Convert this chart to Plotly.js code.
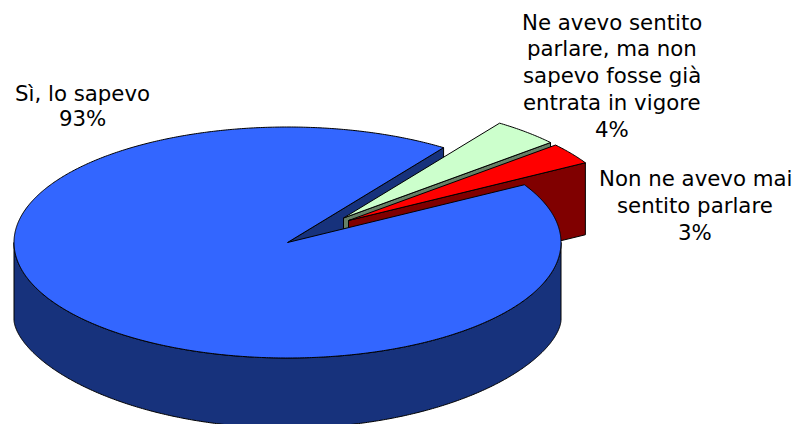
<!DOCTYPE html>
<html><head><meta charset="utf-8">
<script src="https://cdn.plot.ly/plotly-3.0.1.min.js"></script>
<style>html,body{margin:0;padding:0;background:#fff}#c{width:796px;height:424px}</style>
</head><body><div id="c"></div>
<script>
const labelLines = [["Sì, lo sapevo"], ["Ne avevo sentito", "parlare, ma non", "sapevo fosse già", "entrata in vigore"], ["Non ne avevo mai", "sentito parlare"]];
const values = [93, 4, 3];
const topColors = ["#3366FF", "#CCFFCC", "#FF0000"];
const sideColors = ["#17327C", "#668066", "#800000"];

// projection of the tilted disc, in pixel-sized axis units
const cx = 287.5, cy = 242.5, rx = 273.5, ry = 115.5;
const botCy = 320, botRy = 108, botPow = 1.2, depth = 79, explodedDepth = 72;
const firstAngle = 30;           // degrees, measured counter-clockwise from east
const explode = [null, [56, -24.5], [61, -22]];
// label block: centre x, first line y, line step
const labelPos = [[82, 93, 25.5], [612, 22, 26.75], [695, 178, 27]];

const total = values.reduce((a, b) => a + b, 0);
let a = firstAngle; const spans = values.map(v => { const s = a; a -= v / total * 360; return [s, a]; });
const pt = (deg, ox = 0, oy = 0) => [cx + ox + rx * Math.cos(deg * Math.PI / 180), cy + oy - ry * Math.sin(deg * Math.PI / 180)];
const arc = (from, to, ox, oy) => { const out = [], n = Math.max(2, Math.ceil(Math.abs(to - from) / 0.5)); for (let i = 0; i <= n; i++) out.push(pt(from + (to - from) * i / n, ox, oy)); return out; };
const botArc = (from, to) => { const out = [], n = Math.ceil(Math.abs(to - from) / 0.5); for (let i = 0; i <= n; i++) { const t = (from + (to - from) * i / n) * Math.PI / 180; out.push([cx + rx * Math.cos(t), botCy + botRy * Math.pow(Math.abs(Math.sin(t)), botPow)]); } return out; };
const poly = (pts, fill) => ({ type: 'scatter', mode: 'lines', x: pts.map(p => p[0]), y: pts.map(p => p[1]), fill: 'toself', fillcolor: fill, line: { color: '#000', width: 1, simplify: false }, hoverinfo: 'skip', showlegend: false });
const close = p => p.concat([p[0]]);
const slab = (p, q, d) => close([p, q, [q[0], q[1] + d], [p[0], p[1] + d]]);
const slice = (i) => { const [s, e] = spans[i], [ox, oy] = explode[i]; return close([[cx + ox, cy + oy]].concat(arc(s, e, ox, oy))); };

const traces = [];
// blue cut face facing the gap
traces.push(poly(slab([cx, cy], pt(spans[0][1]), depth), sideColors[0]));
// green slice
{ const [ox, oy] = explode[1]; traces.push(poly(slab([cx + ox, cy + oy], pt(spans[1][1], ox, oy), explodedDepth), sideColors[1])); traces.push(poly(slice(1), topColors[1])); }
// red slice
{ const [ox, oy] = explode[2]; traces.push(poly(slab([cx + ox, cy + oy], pt(spans[2][1], ox, oy), explodedDepth), sideColors[2])); traces.push(poly(slice(2), topColors[2])); }
// blue wall and top
traces.push(poly(close(arc(180, 360).concat(botArc(360, 180))), sideColors[0]));
traces.push(poly(close([[cx, cy]].concat(arc(spans[0][0], spans[0][1]))), topColors[0]));

const fnt = { family: '"DejaVu Sans", Verdana, sans-serif', size: 21.3, color: '#000' };
const annotations = [];
labelLines.forEach((lines, i) => {
  const [x, y0, step] = labelPos[i];
  lines.concat([values[i] + '%']).forEach((t, k) => annotations.push({ text: t, x, y: y0 + k * step, xref: 'x', yref: 'y', showarrow: false, align: 'center', xanchor: 'center', yanchor: 'middle', font: fnt }));
});
const hidden = { visible: false, fixedrange: true };
Plotly.newPlot('c', traces, {
  width: 796, height: 424, margin: { l: 0, r: 0, t: 0, b: 0 }, paper_bgcolor: '#fff', plot_bgcolor: '#fff',
  xaxis: Object.assign({ range: [0, 796] }, hidden), yaxis: Object.assign({ range: [424, 0] }, hidden),
  showlegend: false, annotations
}, { staticPlot: true });
</script></body></html>
